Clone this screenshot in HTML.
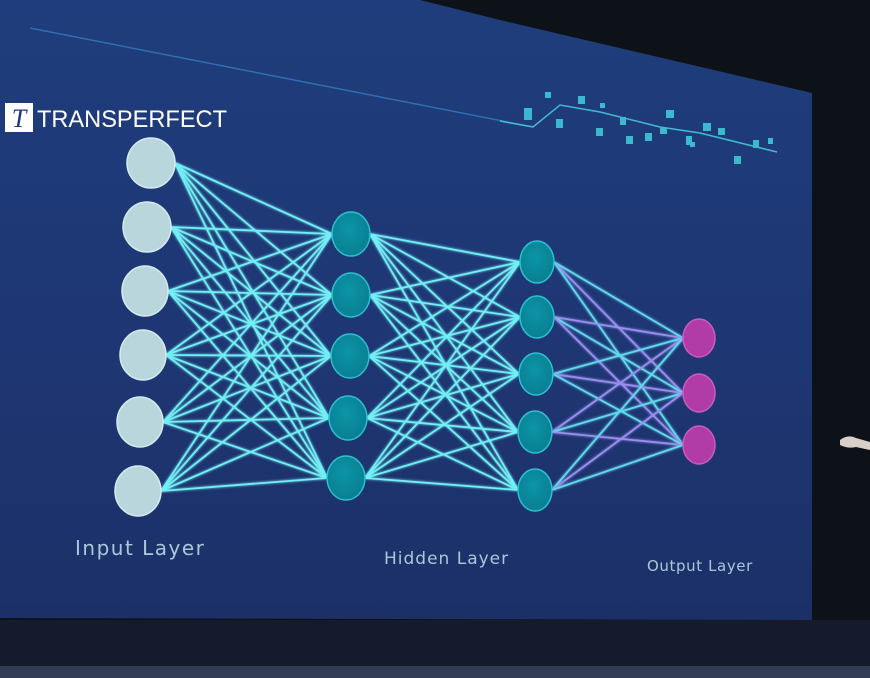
<!DOCTYPE html>
<html><head><meta charset="utf-8"><style>
html,body{margin:0;padding:0;background:#0b1018;}
svg{display:block}
</style></head><body>
<svg id="s" width="870" height="678" viewBox="0 0 870 678" xmlns="http://www.w3.org/2000/svg">
<defs>
<linearGradient id="bg" x1="0" y1="0" x2="0" y2="1">
<stop offset="0" stop-color="#1f3d7c"/><stop offset="0.5" stop-color="#1e3774"/><stop offset="1" stop-color="#1c3068"/>
</linearGradient>
<radialGradient id="hg" cx="0.45" cy="0.4" r="0.6"><stop offset="0" stop-color="#0c95a6"/><stop offset="1" stop-color="#087f92"/></radialGradient>
<filter id="glow" x="-10%" y="-10%" width="120%" height="120%"><feGaussianBlur stdDeviation="1.2" result="b"/><feMerge><feMergeNode in="b"/><feMergeNode in="SourceGraphic"/></feMerge></filter>
</defs>
<rect width="870" height="678" fill="#0c1217"/>
<rect x="0" y="620" width="870" height="48" fill="#141b2c"/>
<rect x="0" y="666" width="870" height="12" fill="#323c55"/>
<polygon points="0,0 420,0 500,20 812,93 812,620 0,618" fill="url(#bg)"/>
<line x1="30" y1="28" x2="533" y2="127" stroke="#2e6fb0" stroke-width="1.5"/>
<g id="chart" fill="#3fc7d8" opacity="0.9">
<polyline points="500,121 533,127 560,105 600,112 660,127 700,133 777,152" fill="none" stroke="#46c9da" stroke-width="1.5"/>
<rect x="524" y="108" width="8" height="12"/><rect x="545" y="92" width="6" height="6"/><rect x="556" y="119" width="7" height="9"/>
<rect x="578" y="96" width="7" height="8"/><rect x="596" y="128" width="7" height="8"/><rect x="620" y="117" width="6" height="8"/>
<rect x="626" y="136" width="7" height="8"/><rect x="645" y="133" width="7" height="8"/><rect x="666" y="110" width="8" height="8"/>
<rect x="660" y="128" width="7" height="6"/><rect x="686" y="136" width="6" height="9"/><rect x="703" y="123" width="8" height="8"/>
<rect x="718" y="128" width="7" height="7"/><rect x="734" y="156" width="7" height="8"/><rect x="753" y="140" width="6" height="8"/>
<rect x="768" y="138" width="5" height="6"/><rect x="600" y="103" width="5" height="5"/><rect x="690" y="142" width="5" height="5"/>
</g>
<g id="lines" stroke-width="1.8" filter="url(#glow)"></g>
<g id="nodes"></g>
<rect x="5" y="103" width="28" height="29" fill="#fff"/>
<text x="19" y="127" font-family="Liberation Serif,serif" font-style="italic" font-size="26" fill="#1d3874" text-anchor="middle">T</text>
<text x="37" y="127" font-family="Liberation Sans,sans-serif" font-size="24" fill="#fff" textLength="190" lengthAdjust="spacingAndGlyphs">TRANSPERFECT</text>
<g font-family="DejaVu Sans,Liberation Sans,sans-serif" fill="#a9c8da">
<text x="75" y="555" font-size="20" letter-spacing="1.5">Input Layer</text>
<text x="384" y="564" font-size="17" letter-spacing="1">Hidden Layer</text>
<text x="647" y="571" font-size="15" letter-spacing="0.6">Output Layer</text>
</g>
<path d="M840 440 q8 -6 16 -2 l14 4 v8 l-14 -3 q-8 2 -16 -2z" fill="#d8d0c8"/>
</svg>
<script>
var NS="http://www.w3.org/2000/svg";
var I=[[151,163,24,25],[147,227,24,25],[145,291,23,25],[143,355,23,25],[140,422,23,25],[138,491,23,25]];
var H1=[[351,234,19,22],[351,295,19,22],[350,356,19,22],[348,418,19,22],[346,478,19,22]];
var H2=[[537,262,17,21],[537,317,17,21],[536,374,17,21],[535,432,17,21],[535,490,17,21]];
var O=[[699,338,16,19],[699,393,16,19],[699,445,16,19]];
var L=document.getElementById("lines"),N=document.getElementById("nodes");
function line(a,b,c){var l=document.createElementNS(NS,"line");l.setAttribute("x1",a[0]+a[2]);l.setAttribute("y1",a[1]);l.setAttribute("x2",b[0]-b[2]);l.setAttribute("y2",b[1]);l.setAttribute("stroke",c);L.appendChild(l);}
I.forEach(a=>H1.forEach(b=>line(a,b,"#72eef5")));
H1.forEach(a=>H2.forEach(b=>line(a,b,"#72eef5")));
H2.forEach((a,i)=>O.forEach((b,j)=>line(a,b,(i+j)%2?"#9a8ef0":"#62d8ee")));
function node(a,f,s){var e=document.createElementNS(NS,"ellipse");e.setAttribute("cx",a[0]);e.setAttribute("cy",a[1]);e.setAttribute("rx",a[2]);e.setAttribute("ry",a[3]);e.setAttribute("fill",f);e.setAttribute("stroke",s);e.setAttribute("stroke-width","1.5");N.appendChild(e);}
I.forEach(a=>node(a,"#b9d6dc","#d5eaee"));
H1.forEach(a=>node(a,"url(#hg)","#2cc0d0"));
H2.forEach(a=>node(a,"url(#hg)","#2cc0d0"));
O.forEach(a=>node(a,"#b13ca8","#c85cc0"));
</script>
</body></html>
